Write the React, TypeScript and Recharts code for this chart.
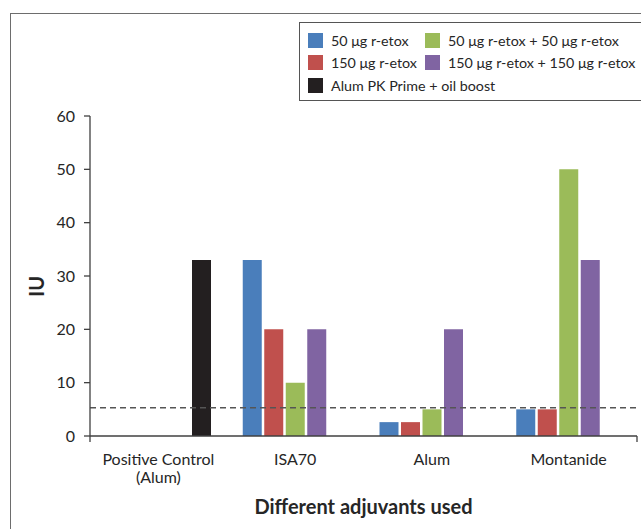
import React from "react";
import { Bar, BarChart, ReferenceLine, XAxis, YAxis, usePlotArea } from "recharts";

const categories = ["Positive Control\n(Alum)", "ISA70", "Alum", "Montanide"];
const r50 = [null, 33, 2.6, 5];
const r150 = [null, 20, 2.6, 5];
const r50x2 = [null, 10, 5, 50];
const r150x2 = [null, 20, 20, 33];
const alumPK = [33, null, null, null];
const yTicks = [0, 10, 20, 30, 40, 50, 60];
const cutoff = 5.3;

const SERIES = [
  { key: "r50", name: "50 μg r-etox", color: "#4A7EBB" },
  { key: "r150", name: "150 μg r-etox", color: "#C0504D" },
  { key: "r50x2", name: "50 μg r-etox + 50 μg r-etox", color: "#9BBB59" },
  { key: "r150x2", name: "150 μg r-etox + 150 μg r-etox", color: "#8064A2" },
  { key: "alumPK", name: "Alum PK Prime + oil boost", color: "#231F20" },
];

const data = categories.map((name, i) => ({
  name,
  r50: r50[i],
  r150: r150[i],
  r50x2: r50x2[i],
  r150x2: r150x2[i],
  alumPK: alumPK[i],
}));

const FONT = "Lato, 'Open Sans', sans-serif";
const INK = "#262626";
const AXIS = "#404040";

function CategoryTick({ x, y, payload }: any) {
  const lines = String(payload.value).split("\n");
  return (
    <text x={x} y={y + 21} textAnchor="middle" fill={INK} fontSize={16} fontFamily={FONT}>
      {lines.map((l, i) => (
        <tspan key={i} x={x} dy={i === 0 ? 0 : 18}>
          {l}
        </tspan>
      ))}
    </text>
  );
}

// short end ticks under the category axis
function AxisEnds() {
  const p = usePlotArea();
  if (!p) return null;
  const y = p.y + p.height;
  return (
    <g stroke={AXIS} strokeWidth={1.3}>
      <line x1={p.x} y1={y} x2={p.x} y2={y + 6} />
      <line x1={p.x + p.width} y1={y} x2={p.x + p.width} y2={y + 6} />
    </g>
  );
}

function LegendBox() {
  const item = (s: (typeof SERIES)[number], span = false) => (
    <div
      key={s.key}
      style={{
        display: "flex",
        alignItems: "center",
        height: 22.5,
        whiteSpace: "nowrap",
        gridColumn: span ? "1 / span 2" : undefined,
      }}
    >
      <span style={{ width: 15, height: 15, background: s.color, marginRight: 8, flex: "none" }} />
      <span>{s.name}</span>
    </div>
  );
  return (
    <div
      style={{
        position: "absolute",
        left: 299,
        top: 22,
        border: "1px solid #555",
        width: 360,
        height: 79,
        boxSizing: "border-box",
        padding: "6px 0 0 8px",
        fontSize: 14.3,
        color: INK,
        fontFamily: FONT,
        display: "grid",
        gridTemplateColumns: "117px auto",
        gridAutoRows: "22.5px",
      }}
    >
      {item(SERIES[0])}
      {item(SERIES[2])}
      {item(SERIES[1])}
      {item(SERIES[3])}
      {item(SERIES[4], true)}
    </div>
  );
}

export default function App() {
  return (
    <div
      style={{
        position: "absolute",
        left: 0,
        top: 0,
        width: 641,
        height: 529,
        overflow: "hidden",
        background: "#fff",
        fontFamily: FONT,
      }}
    >
      <div
        style={{
          position: "absolute",
          left: 10,
          top: 13,
          width: 700,
          height: 600,
          border: "1.5px solid #6d6d6d",
        }}
      />
      <BarChart
        width={641}
        height={529}
        data={data}
        margin={{ top: 116, right: 4, bottom: 43, left: 50 }}
        barSize={19}
        barGap={2.5}
        style={{ position: "absolute", left: 0, top: 0 }}
      >
        <XAxis
          dataKey="name"
          interval={0}
          tickLine={false}
          axisLine={{ stroke: AXIS, strokeWidth: 1.3 }}
          tick={<CategoryTick />}
          height={50}
          label={{
            value: "Different adjuvants used",
            position: "bottom",
            offset: 14,
            fill: INK,
            fontSize: 20,
            fontWeight: 700,
            fontFamily: FONT,
          }}
        />
        <YAxis
          domain={[0, 60]}
          ticks={yTicks}
          width={40}
          tickSize={6}
          tickMargin={9}
          tickLine={{ stroke: AXIS, strokeWidth: 1.3 }}
          axisLine={{ stroke: AXIS, strokeWidth: 1.3 }}
          tick={{ fill: INK, fontSize: 16, fontFamily: FONT }}
          label={{
            value: "IU",
            angle: -90,
            position: "left",
            offset: 13,
            fill: INK,
            fontSize: 20,
            fontWeight: 700,
            fontFamily: FONT,
          }}
        />
        {SERIES.map((s) => (
          <Bar key={s.key} dataKey={s.key} name={s.name} fill={s.color} isAnimationActive={false} />
        ))}
        <ReferenceLine y={cutoff} stroke="#555" strokeWidth={1.5} strokeDasharray="6 4" />
        <AxisEnds />
      </BarChart>
      <LegendBox />
    </div>
  );
}
